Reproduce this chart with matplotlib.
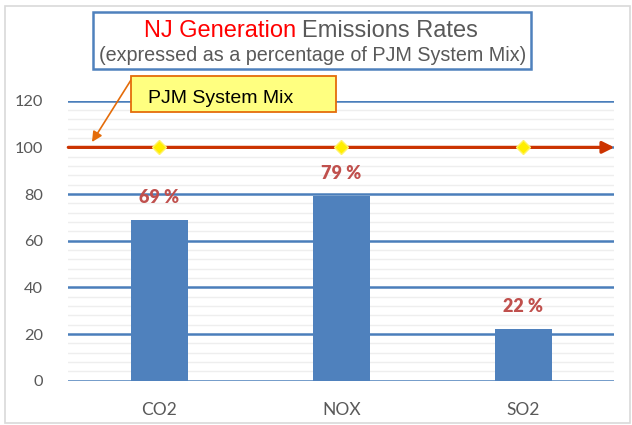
import matplotlib
matplotlib.use("Agg")
import matplotlib.pyplot as plt
from matplotlib.patches import Rectangle
from matplotlib.transforms import Affine2D
import numpy as np

# ---- data ----
categories = ["CO2", "NOX", "SO2"]
values = [69, 79, 22]
labels = ["69 %", "79 %", "22 %"]
reference_level = 100
yticks = [0, 20, 40, 60, 80, 100, 120]

W, H = 632, 425
fig = plt.figure(figsize=(W / 100, H / 100), dpi=100)
fig.patch.set_facecolor("white")
px = Affine2D().scale(1 / W, -1 / H).translate(0, 1) + fig.transFigure

# outer border
fig.patches.append(Rectangle((5, 6), 625, 417, transform=px, fill=False,
                             edgecolor="#d9d9d9", lw=1.2))

ax = fig.add_axes([68.3 / W, 1 - 380.7 / H, 546 / W, 280 / H])
x = np.arange(len(categories))
ax.set_xlim(-0.5, len(categories) - 0.5)
ax.set_ylim(0, 120)

# gridlines
ax.set_yticks(yticks)
ax.set_yticks(np.arange(0, 121, 4), minor=True)
ax.grid(True, which="minor", axis="y", color="#eeeeee", lw=1.0, zorder=0)
ax.grid(True, which="major", axis="y", color="#4a7ebb", lw=1.8, zorder=1)
ax.set_axisbelow(True)
for s in ax.spines.values():
    s.set_visible(False)

ax.bar(x, values, width=0.31, color="#4f81bd", zorder=3)

for xi, v, lab in zip(x, values, labels):
    ax.annotate(lab, (xi, v), xytext=(0, 10), textcoords="offset points",
                ha="center", va="bottom", fontsize=13, fontweight="heavy",
                family="Lato", color="#c0504d", zorder=5)

# reference arrow line at 100
ax.annotate("", xy=(len(categories) - 0.5, reference_level),
            xytext=(-0.5, reference_level),
            arrowprops=dict(arrowstyle="-|>,head_length=0.7,head_width=0.35",
                            color="#cc3300", lw=2.3, shrinkA=0, shrinkB=0),
            annotation_clip=False, zorder=4)
ax.plot(x, [reference_level] * len(categories), linestyle="none", marker="D",
        markersize=7.5, color="#ffee00", markeredgecolor="#fff266",
        zorder=6, clip_on=False)

ax.set_xticks(x)
ax.set_xticklabels(categories, fontsize=12.5, family="Lato", color="#595959")
ax.tick_params(axis="x", length=0, pad=15)
ax.tick_params(axis="y", which="both", length=0, pad=18, labelsize=11.8,
               labelcolor="#595959")
for t in ax.get_yticklabels():
    t.set_family("Lato")

# title box
fig.patches.append(Rectangle((92.5, 11.5), 438, 57.5, transform=px, fill=False,
                             edgecolor="#4f81bd", lw=1.8))
fig.text(296, 37, "NJ Generation", transform=px, ha="right", va="baseline",
         fontsize=17, color="#ff0000", family="Liberation Sans")
fig.text(302, 37, "Emissions Rates", transform=px, ha="left", va="baseline",
         fontsize=17, color="#595959", family="Liberation Sans")
fig.text(312.5, 61, "(expressed as a percentage of PJM System Mix)", transform=px,
         ha="center", va="baseline", fontsize=14.2, color="#595959",
         family="Liberation Sans")

# PJM System Mix callout
fig.patches.append(Rectangle((131, 76), 205, 36, transform=px, facecolor="#ffff80",
                             edgecolor="#e46c0a", lw=1.3, zorder=10))
fig.text(148, 103, "PJM System Mix", transform=px, ha="left", va="baseline",
         fontsize=14, color="black", family="Liberation Sans", zorder=11)
ax.annotate("", xy=(92, 142), xycoords=px, xytext=(131, 80), textcoords=px,
            arrowprops=dict(arrowstyle="-|>,head_length=0.6,head_width=0.3",
                            color="#e46c0a", lw=1.2, shrinkA=0, shrinkB=0),
            annotation_clip=False, zorder=9)

fig.savefig("out.png", dpi=100)
